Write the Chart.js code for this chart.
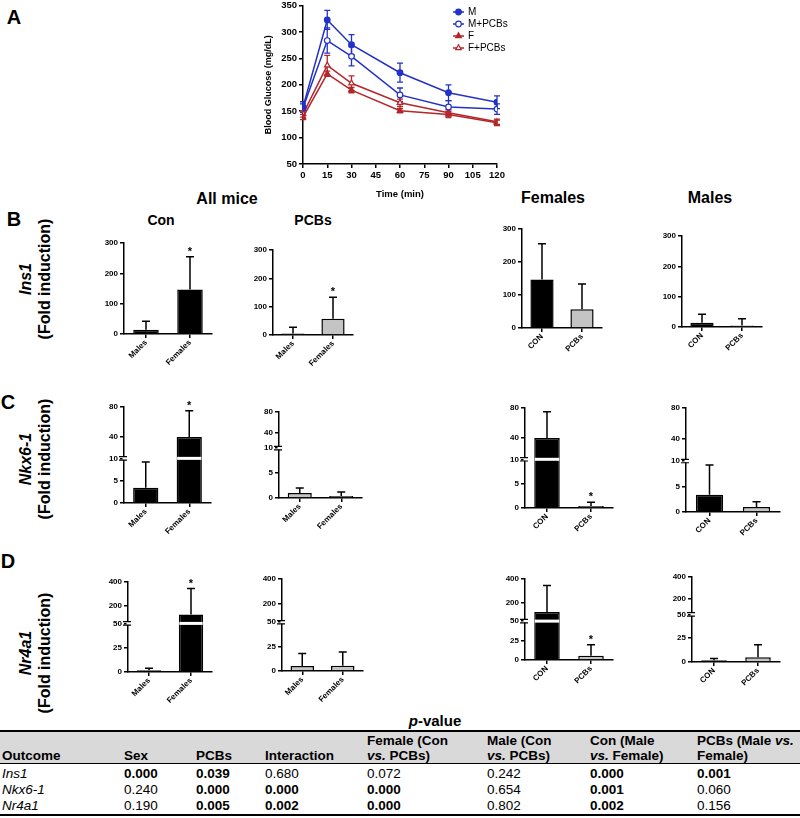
<!DOCTYPE html>
<html>
<head>
<meta charset="utf-8">
<title>Glucose tolerance and islet gene expression</title>
<script src="https://cdn.jsdelivr.net/npm/chart.js@4.4.1/dist/chart.umd.min.js"></script>
<style>
  body { margin: 0; width: 800px; height: 818px; position: relative; overflow: hidden; background: #fff;
         font-family: "Liberation Sans", Arial, sans-serif; color: #000; }
  canvas { position: absolute; }
  .txt { position: absolute; transform: translate(-50%, -50%); font-weight: bold; white-space: nowrap; line-height: 1; }
  .panel { font-size: 20px; }
  .head { font-size: 16px; }
  .sub { font-size: 14px; }
  .gene { position: absolute; transform: translate(-50%, -50%) rotate(-90deg); font-weight: bold; font-size: 16px;
          line-height: 19px; text-align: center; white-space: nowrap; }
  #pv { font-size: 15px; }
  #tbl { position: absolute; left: 0; top: 730px; width: 800px; border-collapse: separate; border-spacing: 0;
         table-layout: fixed; font-size: 13.5px; }
  #tbl th { background: #d9d9d9; text-align: left; vertical-align: bottom; line-height: 14.5px; padding: 2px 0 0 2px;
            border-top: 2px solid #000; border-bottom: 1.5px solid #000; }
  #tbl td { line-height: 16px; padding: 0 0 0 2px; }
  #tbl tbody tr:first-child td { padding-top: 2px; }
  #tbl tbody tr:last-child td { border-bottom: 2px solid #000; }
</style>
</head>
<body>

<div class="txt panel" style="left:14px;top:17px">A</div>
<div class="txt panel" style="left:14px;top:219px">B</div>
<div class="txt panel" style="left:8px;top:402px">C</div>
<div class="txt panel" style="left:8px;top:561px">D</div>

<div class="txt head" style="left:227px;top:199px">All mice</div>
<div class="txt sub" style="left:161px;top:220px">Con</div>
<div class="txt sub" style="left:313px;top:220px">PCBs</div>
<div class="txt head" style="left:553px;top:198px">Females</div>
<div class="txt head" style="left:710px;top:198px">Males</div>

<div class="gene" style="left:35px;top:279px"><i>Ins1</i><br>(Fold induction)</div>
<div class="gene" style="left:35px;top:459px"><i>Nkx6-1</i><br>(Fold induction)</div>
<div class="gene" style="left:35px;top:653px"><i>Nr4a1</i><br>(Fold induction)</div>

<div id="pv" class="txt" style="left:435px;top:720px"><i>p</i>-value</div>

<table id="tbl">
  <colgroup>
    <col style="width:122px"><col style="width:72px"><col style="width:69px"><col style="width:102px">
    <col style="width:120px"><col style="width:103px"><col style="width:107px"><col style="width:105px">
  </colgroup>
  <thead>
    <tr><th>Outcome</th><th>Sex</th><th>PCBs</th><th>Interaction</th>
        <th>Female (Con<br><i>vs.</i> PCBs)</th><th>Male (Con<br><i>vs.</i> PCBs)</th>
        <th>Con (Male<br><i>vs.</i> Female)</th><th>PCBs (Male <i>vs.</i><br>Female)</th></tr>
  </thead>
  <tbody>
    <tr><td><i>Ins1</i></td><td><b>0.000</b></td><td><b>0.039</b></td><td>0.680</td><td>0.072</td><td>0.242</td><td><b>0.000</b></td><td><b>0.001</b></td></tr>
    <tr><td><i>Nkx6-1</i></td><td>0.240</td><td><b>0.000</b></td><td><b>0.000</b></td><td><b>0.000</b></td><td>0.654</td><td><b>0.001</b></td><td>0.060</td></tr>
    <tr><td><i>Nr4a1</i></td><td>0.190</td><td><b>0.005</b></td><td><b>0.002</b></td><td><b>0.000</b></td><td>0.802</td><td><b>0.002</b></td><td>0.156</td></tr>
  </tbody>
</table>

<script>
Chart.defaults.font.family = "'Liberation Sans', Arial, sans-serif";
Chart.defaults.color = '#000';

// Panel A - glucose tolerance test
const timePoints = [0, 15, 30, 60, 90, 120];
const timeTicks = [0, 15, 30, 45, 60, 75, 90, 105, 120];
const glucoseTicks = [50, 100, 150, 200, 250, 300, 350];
const seriesNames = ['M', 'M+PCBs', 'F', 'F+PCBs'];
const glucoseM = [158, 323, 276, 223, 185, 167];
const glucoseMSem = [10, 18, 19, 18, 15, 12];
const glucoseMPcb = [156, 284, 254, 181, 158, 154];
const glucoseMPcbSem = [8, 24, 18, 13, 12, 10];
const glucoseF = [139, 221, 190, 151, 144, 128];
const glucoseFSem = [5, 5, 5, 4, 6, 5];
const glucoseFPcb = [145, 237, 203, 166, 147, 130];
const glucoseFPcbSem = [6, 19, 14, 7, 6, 5];

// Panels B-D - fold induction, order: male CON, female CON, male PCBs, female PCBs
const sexLabels = ['Males', 'Females'];
const treatLabels = ['CON', 'PCBs'];
const ins1Mean = [14, 147, 5, 57];
const ins1Sd = [28, 108, 22, 76];
const ins1Ticks = [0, 100, 200, 300];
const ins1SexStars = [false, true, false, true];
const ins1TreatStars = [false, false, false, false];
const nkx61Mean = [3.4, 39, 1.0, 0.4];
const nkx61Sd = [5.8, 36, 1.0, 0.8];
const nkx61Ticks = [0, 5, 10, 40, 80];
const nkx61SexStars = [false, true, false, false];
const nkx61TreatStars = [false, false, false, true];
const nr4a1Mean = [1.8, 125, 5, 5.5];
const nr4a1Sd = [2, 220, 13, 14];
const nr4a1Ticks = [0, 25, 50, 200, 400];
const nr4a1SexStars = [false, true, false, false];
const nr4a1TreatStars = [false, false, false, true];

const BLUE = '#2232c6';
const RED = '#b5262b';

function makeCanvas(left, top, w, h) {
    const c = document.createElement('canvas');
    c.width = w; c.height = h;
    c.style.left = left + 'px'; c.style.top = top + 'px';
    c.style.width = w + 'px'; c.style.height = h + 'px';
    document.body.appendChild(c);
    return c;
}

function axisStyle(size) {
    return {
        grid: { drawOnChartArea: false, drawTicks: true, tickLength: 4, color: '#000', lineWidth: 1.5, offset: false },
        border: { color: '#000', width: 1.5 },
        ticks: { color: '#000', font: { size: size, weight: 'bold' }, padding: 2 }
    };
}

// ---------- Panel A ----------
function glucoseChart() {
    const semSets = [glucoseMSem, glucoseMPcbSem, glucoseFSem, glucoseFPcbSem];
    const c = makeCanvas(250, -2, 300, 202);
    const pts = arr => timePoints.map((t, i) => ({ x: t, y: arr[i] }));
    const ds = (i, arr, color, style, fill) => ({
        label: seriesNames[i], data: pts(arr), borderColor: color, backgroundColor: color,
        pointBackgroundColor: fill, pointBorderColor: color, pointStyle: style,
        pointRadius: style === 'triangle' ? 3.2 : 2.8, pointBorderWidth: 1.2, borderWidth: 1.5, tension: 0
    });

    const semBars = {
        id: 'semBars',
        beforeDatasetsDraw(chart) {
            const ctx = chart.ctx, ys = chart.scales.y;
            ctx.save();
            ctx.lineWidth = 1.3;
            chart.data.datasets.forEach((set, d) => {
                ctx.strokeStyle = set.borderColor;
                chart.getDatasetMeta(d).data.forEach((pt, i) => {
                    const v = set.data[i].y, e = semSets[d][i];
                    const y1 = ys.getPixelForValue(v + e), y2 = ys.getPixelForValue(v - e);
                    ctx.beginPath();
                    ctx.moveTo(pt.x, y1); ctx.lineTo(pt.x, y2);
                    ctx.moveTo(pt.x - 3, y1); ctx.lineTo(pt.x + 3, y1);
                    ctx.moveTo(pt.x - 3, y2); ctx.lineTo(pt.x + 3, y2);
                    ctx.stroke();
                });
            });
            ctx.restore();
        }
    };

    const insideLegend = {
        id: 'insideLegend',
        afterDraw(chart) {
            const ctx = chart.ctx;
            ctx.save();
            chart.data.datasets.forEach((set, i) => {
                const y = 14 + i * 12;
                ctx.strokeStyle = set.borderColor;
                ctx.lineWidth = 1.5;
                ctx.beginPath(); ctx.moveTo(203, y); ctx.lineTo(214, y); ctx.stroke();
                ctx.fillStyle = set.pointBackgroundColor;
                ctx.lineWidth = 1.2;
                Chart.helpers.drawPoint(ctx, { pointStyle: set.pointStyle, radius: set.pointRadius, borderWidth: 1.2, rotation: 0 }, 208.5, y);
                ctx.fillStyle = '#000';
                ctx.font = "10px 'Liberation Sans', Arial, sans-serif";
                ctx.textBaseline = 'middle';
                ctx.fillText(set.label, 218, y);
            });
            ctx.restore();
        }
    };

    const xs = axisStyle(9.5), ys = axisStyle(9.5);
    new Chart(c, {
        type: 'line',
        data: {
            datasets: [
                ds(0, glucoseM, BLUE, 'circle', BLUE),
                ds(1, glucoseMPcb, BLUE, 'circle', '#fff'),
                ds(2, glucoseF, RED, 'triangle', RED),
                ds(3, glucoseFPcb, RED, 'triangle', '#fff')
            ]
        },
        options: {
            responsive: false, animation: false, devicePixelRatio: 1,
            layout: { padding: { top: 6, right: 53, left: 0, bottom: 0 } },
            plugins: { legend: { display: false }, tooltip: { enabled: false } },
            scales: {
                x: Object.assign(xs, {
                    type: 'linear', min: 0, max: 120,
                    afterBuildTicks: s => { s.ticks = timeTicks.map(v => ({ value: v })); },
                    afterFit: s => { s.height = 36; },
                    title: { display: true, text: 'Time (min)', font: { size: 9.5, weight: 'bold' }, padding: { top: 2, bottom: 0 } }
                }),
                y: Object.assign(ys, {
                    min: 50, max: 350,
                    afterBuildTicks: s => { s.ticks = glucoseTicks.map(v => ({ value: v })); },
                    afterFit: s => { s.width = 53; },
                    title: { display: true, text: 'Blood Glucose (mg/dL)', font: { size: 9, weight: 'bold' }, padding: { top: 13, bottom: 0 } }
                })
            }
        },
        plugins: [semBars, insideLegend]
    });
}

// ---------- Panels B-D ----------
// box: pixel position of the plot frame, idx: which bars of the 4 groups, lowFrac: share of the axis below the break
function barChart(box, labels, mean, sd, stars, idx, ticks, lowFrac) {
    const broken = lowFrac > 0;
    const brk = broken ? ticks[2] : 0;
    const top = ticks[ticks.length - 1];
    const tf = v => !broken ? v
        : (v <= brk ? v / brk * lowFrac : lowFrac + (v - brk) / (top - brk) * (1 - lowFrac));

    const vals = idx.map(i => tf(mean[i]));
    const ups = idx.map(i => tf(mean[i] + sd[i]));
    const marks = idx.map(i => stars[i]);
    const colors = idx.map(i => i < 2 ? '#000' : '#c4c4c4');

    const yW = 30, xH = 42, padT = 14, padR = 6;
    const c = makeCanvas(box.x - yW, box.top - padT, box.right - box.x + yW + padR, box.bottom - box.top + padT + xH);

    const barMarks = {
        id: 'barMarks',
        afterDraw(chart) {
            const ctx = chart.ctx, ys = chart.scales.y;
            const bars = chart.getDatasetMeta(0).data;
            ctx.save();
            const yb = ys.getPixelForValue(lowFrac);
            bars.forEach((bar, i) => {
                // gap where the bar crosses the axis break
                if (broken && vals[i] > lowFrac) {
                    ctx.fillStyle = '#fff';
                    ctx.fillRect(bar.x - bar.width / 2 + 0.5, yb - 1.5, bar.width - 1, 3);
                }
                const yTop = ys.getPixelForValue(ups[i]);
                ctx.strokeStyle = '#000';
                ctx.lineWidth = 1.5;
                ctx.beginPath();
                ctx.moveTo(bar.x, bar.y); ctx.lineTo(bar.x, yTop);
                ctx.moveTo(bar.x - 4, yTop); ctx.lineTo(bar.x + 4, yTop);
                ctx.stroke();
                if (marks[i]) {
                    ctx.fillStyle = '#000';
                    ctx.font = "bold 11px 'Liberation Sans', Arial, sans-serif";
                    ctx.textAlign = 'center';
                    ctx.textBaseline = 'alphabetic';
                    ctx.fillText('*', bar.x, yTop - 2);
                }
            });
            if (broken) {
                const x = chart.chartArea.left;
                ctx.fillStyle = '#fff';
                ctx.fillRect(x - 1.5, yb - 1.5, 3, 3);
                ctx.strokeStyle = '#000';
                ctx.lineWidth = 1.2;
                ctx.beginPath();
                ctx.moveTo(x - 5, yb - 1.7); ctx.lineTo(x + 3, yb - 1.7);
                ctx.moveTo(x - 5, yb + 1.7); ctx.lineTo(x + 3, yb + 1.7);
                ctx.stroke();
            }
            ctx.restore();
        }
    };

    const xs = axisStyle(8), ys = axisStyle(8);
    new Chart(c, {
        type: 'bar',
        data: {
            labels: labels,
            datasets: [{
                data: vals, backgroundColor: colors, borderColor: '#000', borderWidth: 1.5,
                barPercentage: 0.58, categoryPercentage: 1
            }]
        },
        options: {
            responsive: false, animation: false, devicePixelRatio: 1,
            layout: { padding: { top: padT, right: padR, left: 0, bottom: 0 } },
            plugins: { legend: { display: false }, tooltip: { enabled: false } },
            scales: {
                x: Object.assign(xs, {
                    ticks: Object.assign(xs.ticks, { minRotation: 45, maxRotation: 45, padding: 0 }),
                    afterFit: s => { s.height = xH; }
                }),
                y: Object.assign(ys, {
                    min: 0, max: broken ? 1 : top,
                    ticks: Object.assign(ys.ticks, { callback: (v, i) => ticks[i] }),
                    afterBuildTicks: s => { s.ticks = ticks.map(v => ({ value: tf(v) })); },
                    afterFit: s => { s.width = yW; }
                })
            }
        },
        plugins: [barMarks]
    });
}

glucoseChart();

// row B - Ins1
barChart({ x: 124, top: 243, bottom: 334, right: 212 }, sexLabels, ins1Mean, ins1Sd, ins1SexStars, [0, 1], ins1Ticks, 0);
barChart({ x: 273, top: 250, bottom: 335, right: 353 }, sexLabels, ins1Mean, ins1Sd, ins1SexStars, [2, 3], ins1Ticks, 0);
barChart({ x: 522, top: 229, bottom: 328, right: 602 }, treatLabels, ins1Mean, ins1Sd, ins1TreatStars, [1, 3], ins1Ticks, 0);
barChart({ x: 682, top: 236, bottom: 327, right: 762 }, treatLabels, ins1Mean, ins1Sd, ins1TreatStars, [0, 2], ins1Ticks, 0);

// row C - Nkx6-1
barChart({ x: 124, top: 407, bottom: 503, right: 211 }, sexLabels, nkx61Mean, nkx61Sd, nkx61SexStars, [0, 1], nkx61Ticks, 0.465);
barChart({ x: 279, top: 412, bottom: 498, right: 362 }, sexLabels, nkx61Mean, nkx61Sd, nkx61SexStars, [2, 3], nkx61Ticks, 0.58);
barChart({ x: 525, top: 408, bottom: 508, right: 613 }, treatLabels, nkx61Mean, nkx61Sd, nkx61TreatStars, [1, 3], nkx61Ticks, 0.487);
barChart({ x: 686, top: 408, bottom: 512, right: 780 }, treatLabels, nkx61Mean, nkx61Sd, nkx61TreatStars, [0, 2], nkx61Ticks, 0.49);

// row D - Nr4a1
barChart({ x: 128, top: 582, bottom: 672, right: 212 }, sexLabels, nr4a1Mean, nr4a1Sd, nr4a1SexStars, [0, 1], nr4a1Ticks, 0.54);
barChart({ x: 282, top: 579, bottom: 671, right: 363 }, sexLabels, nr4a1Mean, nr4a1Sd, nr4a1SexStars, [2, 3], nr4a1Ticks, 0.53);
barChart({ x: 525, top: 579, bottom: 660, right: 613 }, treatLabels, nr4a1Mean, nr4a1Sd, nr4a1TreatStars, [1, 3], nr4a1Ticks, 0.48);
barChart({ x: 692, top: 577, bottom: 662, right: 780 }, treatLabels, nr4a1Mean, nr4a1Sd, nr4a1TreatStars, [0, 2], nr4a1Ticks, 0.56);
</script>
</body>
</html>
